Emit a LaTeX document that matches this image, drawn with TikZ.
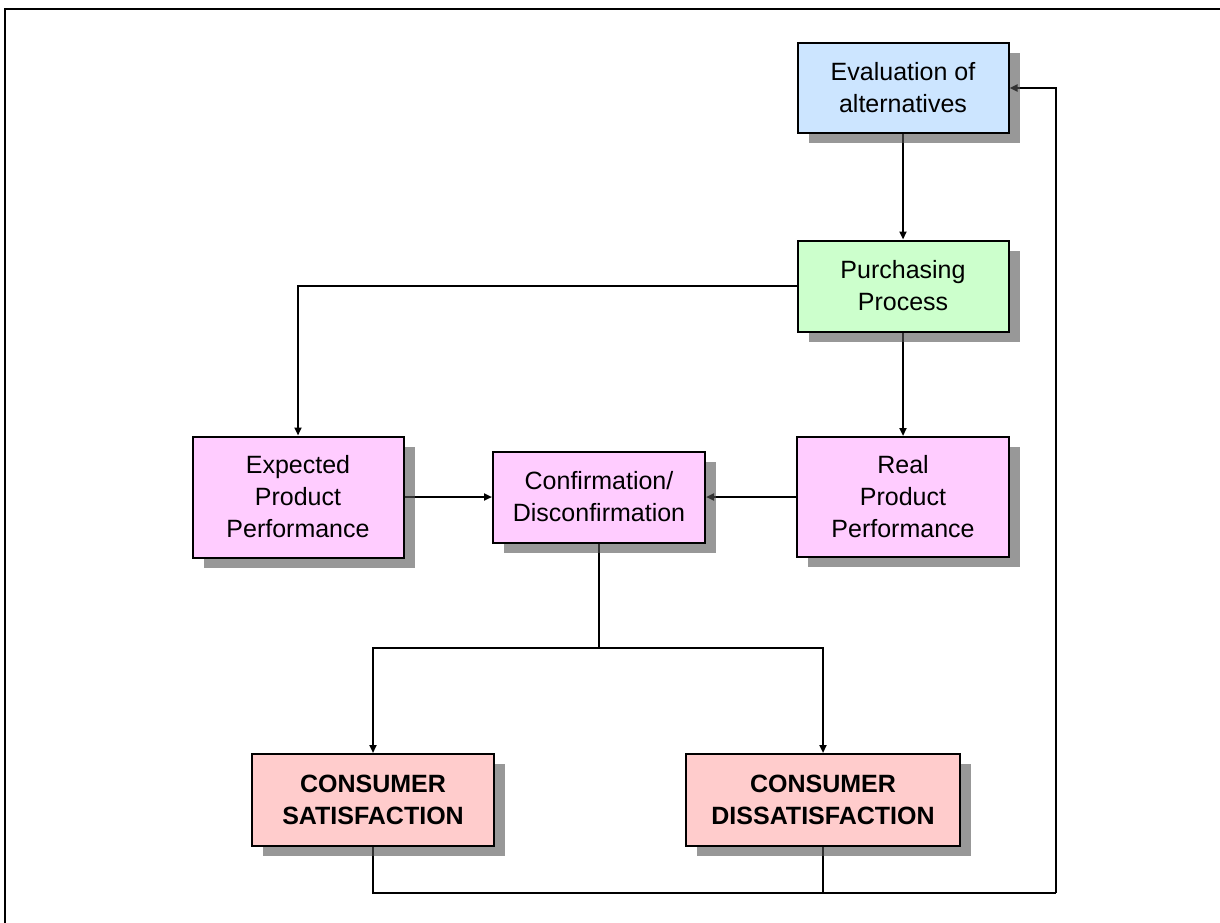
\documentclass[tikz,border=0pt]{standalone}
\usepackage{fontspec}
\setmainfont{Liberation Sans}
\usetikzlibrary{arrows.meta,shadows}
\pgfdeclarelayer{back}
\pgfsetlayers{back,main}
\definecolor{evalblue}{RGB}{204,229,255}
\definecolor{buygreen}{RGB}{204,255,204}
\definecolor{perfpink}{RGB}{255,204,255}
\definecolor{resultred}{RGB}{255,204,204}
\begin{document}
\begin{tikzpicture}[x=1pt, y=-1pt,
    box/.style={rectangle, draw, line width=2pt, align=center, inner sep=0pt,
      font=\fontsize{25}{32}\selectfont,
      drop shadow={shadow xshift=11pt, shadow yshift=-10pt, fill=black!67,
        opacity=0.6}},
    result/.style={fill=resultred, minimum height=92pt,
      font=\fontsize{25}{32}\selectfont\bfseries}]
  \useasboundingbox (0,0) rectangle (1220,923);
  \draw[line width=2pt] (5,923) -- (5,9) -- (1220,9);

  \begin{scope}[every node/.style={box}]
    \node[fill=evalblue, minimum width=211pt, minimum height=90pt] (eval)
      at (903,88) {Evaluation of\\alternatives};
    \node[fill=buygreen, minimum width=211pt, minimum height=91pt] (purch)
      at (903,286) {Purchasing\\Process};
    \node[fill=perfpink, minimum width=211pt, minimum height=121pt] (expect)
      at (298,497) {Expected\\Product\\Performance};
    \node[fill=perfpink, minimum width=212pt, minimum height=91pt] (confirm)
      at (599,497) {Confirmation/\\Disconfirmation};
    \node[fill=perfpink, minimum width=212pt, minimum height=120pt] (real)
      at (903,497) {Real\\Product\\Performance};
    \node[result, minimum width=242pt] (satisf) at (373,800)
      {CONSUMER\\SATISFACTION};
    \node[result, minimum width=274pt] (dissat) at (823,800)
      {CONSUMER\\DISSATISFACTION};
  \end{scope}

  % connectors go under the shadows
  \begin{pgfonlayer}{back}
    \coordinate (split) at (599,648);
    \coordinate (loop) at (1056,893);
    \begin{scope}[-{Triangle[length=8pt,width=7pt]}, line width=2pt]
      \draw (eval) -- (purch);
      \draw (purch.west) -| (expect.north);
      \draw (purch) -- (real);
      \draw (expect) -- (confirm);
      \draw (real) -- (confirm);
      \draw[-] (confirm) -- (split);
      \draw (split) -| (satisf.north);
      \draw (split) -| (dissat.north);
      \draw[-] (satisf.south) |- (loop);
      \draw[-] (dissat.south) -- (dissat.south |- loop);
      \draw (loop) |- (eval.east);
    \end{scope}
  \end{pgfonlayer}
\end{tikzpicture}
\end{document}
